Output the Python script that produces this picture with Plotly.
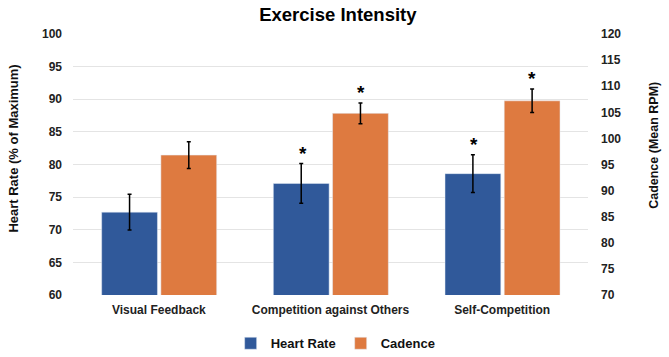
import plotly.graph_objects as go

categories = ["Visual Feedback", "Competition against Others", "Self-Competition"]
heart_rate = [72.7, 77.1, 78.6]
heart_rate_err = [2.75, 3.05, 2.9]
heart_rate_sig = [False, True, True]
cadence = [96.8, 104.8, 107.2]
cadence_err = [2.55, 2.0, 2.25]
cadence_sig = [False, True, True]

left_ticks = [60, 65, 70, 75, 80, 85, 90, 95, 100]
right_ticks = [70, 75, 80, 85, 90, 95, 100, 105, 110, 115, 120]

BLUE = "#30599A"
ORANGE = "#DE7A40"
FONT = "Liberation Sans, Arial, sans-serif"
TICKFONT = dict(size=12, color="#222", family=FONT, weight="bold")

fig = go.Figure()
fig.add_trace(go.Bar(
    x=categories, y=heart_rate, name="Heart Rate", marker_color=BLUE,
    width=0.325, offset=-0.333, yaxis="y",
    error_y=dict(type="data", array=heart_rate_err, color="black", thickness=1.5, width=2),
))
fig.add_trace(go.Bar(
    x=categories, y=cadence, name="Cadence", marker_color=ORANGE,
    width=0.325, offset=0.012, yaxis="y2",
    error_y=dict(type="data", array=cadence_err, color="black", thickness=1.5, width=2),
))

annotations = []
# significance stars above error bars
for c, v, e, s in zip(categories, heart_rate, heart_rate_err, heart_rate_sig):
    if s:
        annotations.append(dict(x=c, y=v + e, xref="x", yref="y", text="<b>*</b>",
                                showarrow=False, xshift=-28, yanchor="bottom", yshift=-2,
                                font=dict(size=19, color="black", family=FONT)))
for c, v, e, s in zip(categories, cadence, cadence_err, cadence_sig):
    if s:
        annotations.append(dict(x=c, y=v + e, xref="x", yref="y2", text="<b>*</b>",
                                showarrow=False, xshift=30, yanchor="bottom", yshift=-2,
                                font=dict(size=19, color="black", family=FONT)))

annotations += [
    dict(text="Heart Rate (% of Maximum)", xref="paper", yref="paper",
         x=-0.115, y=0.56, xanchor="center", yanchor="middle", textangle=-90, showarrow=False,
         font=dict(size=13, color="#111", family=FONT, weight="bold")),
    dict(text="Cadence (Mean RPM)", xref="paper", yref="paper",
         x=1.128, y=0.575, xanchor="center", yanchor="middle", textangle=-90, showarrow=False,
         font=dict(size=12.5, color="#111", family=FONT, weight="bold")),
]

fig.update_layout(
    width=669, height=357,
    margin=dict(l=73, r=81, t=34, b=62, autoexpand=False),
    paper_bgcolor="white", plot_bgcolor="white",
    font=dict(family=FONT, color="#1a1a1a"),
    title=dict(text="Exercise Intensity", x=0.505, xanchor="center", y=0.958, yanchor="middle",
               font=dict(size=18.5, color="black", family=FONT, weight="bold"), automargin=False),
    xaxis=dict(range=[-0.5, 2.5], showgrid=False, showline=False, ticks="", automargin=False,
               tickfont=TICKFONT, ticklabelstandoff=6),
    yaxis=dict(range=[60, 100], tickvals=left_ticks, showgrid=True, gridcolor="#e4e4e4",
               gridwidth=1, zeroline=False, showline=False, ticks="", automargin=False,
               tickfont=TICKFONT, ticklabelstandoff=10),
    yaxis2=dict(range=[70, 120], tickvals=right_ticks, overlaying="y", side="right",
                showgrid=False, zeroline=False, showline=False, ticks="", automargin=False,
                tickfont=TICKFONT, ticklabelstandoff=12),
    legend=dict(orientation="h", x=0.51, xanchor="center", y=-0.185, yanchor="middle",
                font=dict(size=13, color="#111", family=FONT, weight="bold"), itemwidth=30,
                traceorder="normal"),
    showlegend=True,
    annotations=annotations,
)

fig.write_html("out.html", config={"displayModeBar": False},
               post_script="document.body.style.margin='0';document.body.style.overflow='hidden';")
